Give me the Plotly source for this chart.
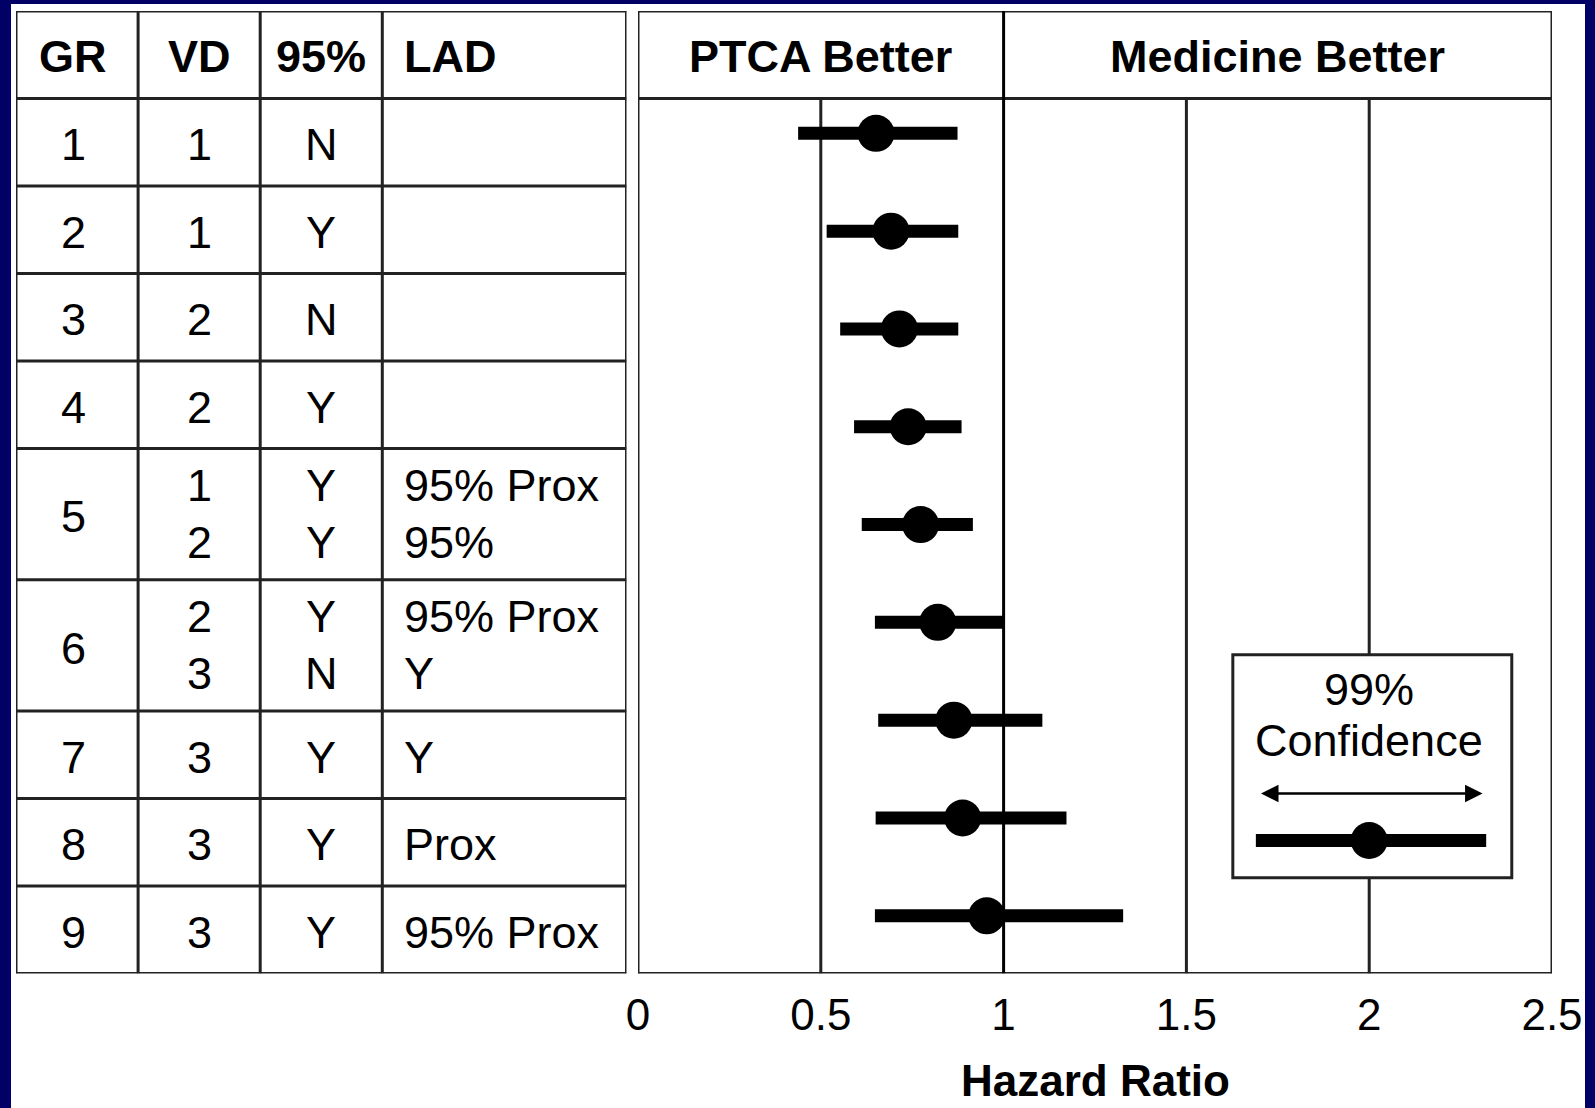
import plotly.graph_objects as go

# ---- data -------------------------------------------------------------
groups = ["1", "2", "3", "4", "5", "6", "7", "8", "9"]
vessels = [["1"], ["1"], ["2"], ["2"], ["1", "2"], ["2", "3"], ["3"], ["3"], ["3"]]
stenosis95 = [["N"], ["Y"], ["N"], ["Y"], ["Y", "Y"], ["Y", "N"], ["Y"], ["Y"], ["Y"]]
lad = [[""], [""], [""], [""], ["95% Prox", "95%"], ["95% Prox", "Y"], ["Y"], ["Prox"], ["95% Prox"]]
row_units = [1, 1, 1, 1, 1.5, 1.5, 1, 1, 1]

hazard = [0.651, 0.692, 0.715, 0.739, 0.773, 0.820, 0.864, 0.888, 0.954]
ci_low = [0.438, 0.516, 0.553, 0.591, 0.612, 0.648, 0.657, 0.650, 0.648]
ci_high = [0.874, 0.876, 0.876, 0.885, 0.916, 1.000, 1.106, 1.172, 1.327]

header_cols = ["GR", "VD", "95%", "LAD"]
panel_headers = ["PTCA Better", "Medicine Better"]
x_ticks = [0, 0.5, 1, 1.5, 2, 2.5]
x_tick_text = ["0", "0.5", "1", "1.5", "2", "2.5"]
key_value, key_low, key_high = 2.0, 1.69, 2.32

# ---- page geometry ----------------------------------------------------
W, H = 1595, 1108
FONT = "Liberation Sans, Arial, sans-serif"
FS = 45
NAVY = "#000066"
LINE = "#222222"


def px_x(p):
    return p / W


def px_y(p):
    return 1 - p / H


fig = go.Figure()

# forest plot: point estimates with 99% confidence bars
rows = list(range(1, len(groups) + 1))
fig.add_trace(go.Scatter(
    x=hazard, y=rows, mode="markers",
    marker=dict(size=37, color="black"),
    error_x=dict(type="data", symmetric=False,
                 array=[h - m for h, m in zip(ci_high, hazard)],
                 arrayminus=[m - l for m, l in zip(hazard, ci_low)],
                 thickness=13, width=0, color="black"),
    xaxis="x", yaxis="y", showlegend=False, hoverinfo="skip",
))

# key inside the box
key_row = 8.23
fig.add_trace(go.Scatter(
    x=[key_value], y=[key_row], mode="markers",
    marker=dict(size=37, color="black"),
    error_x=dict(type="data", symmetric=False,
                 array=[key_high - key_value], arrayminus=[key_value - key_low],
                 thickness=13, width=0, color="black"),
    xaxis="x", yaxis="y", showlegend=False, hoverinfo="skip",
))

shapes = []
# white page area
shapes.append(dict(type="rect", xref="paper", yref="paper",
                   x0=px_x(11), x1=px_x(1585), y0=0, y1=px_y(4),
                   fillcolor="white", line=dict(width=0), layer="below"))

# table grid (x2 / y2 units)
col_edges = [0, 1, 2, 3, 5]
row_edges = [0, 1]
for u in row_units:
    row_edges.append(row_edges[-1] + u)
total = row_edges[-1]
for ce in col_edges:
    shapes.append(dict(type="line", xref="x2", yref="y2", x0=ce, x1=ce, y0=0, y1=total,
                       line=dict(color=LINE, width=3), layer="below"))
for re_ in row_edges:
    shapes.append(dict(type="line", xref="x2", yref="y2", x0=0, x1=5, y0=re_, y1=re_,
                       line=dict(color=LINE, width=3), layer="below"))

# right panel frame
for yy in (0, 1, total):
    shapes.append(dict(type="line", xref="x", yref="y2", x0=0, x1=2.5, y0=yy, y1=yy,
                       line=dict(color=LINE, width=3), layer="below"))
for xx in (0, 1, 2.5):
    shapes.append(dict(type="line", xref="x", yref="y2", x0=xx, x1=xx, y0=0, y1=total,
                       line=dict(color="black" if xx == 1 else LINE, width=3), layer="below"))
for xx in (0.5, 1.5, 2):
    shapes.append(dict(type="line", xref="x", yref="y2", x0=xx, x1=xx, y0=1, y1=total,
                       line=dict(color=LINE, width=3), layer="below"))

# key box
shapes.append(dict(type="rect", xref="x", yref="y", x0=1.627, x1=2.39, y0=6.33, y1=8.61,
                   fillcolor="white", line=dict(color=LINE, width=3), layer="below"))

annotations = []
col_centers = [0.47, 1.5, 2.5]
lad_left = 3.16


def txt(x, y, s, xref="x2", yref="y2", anchor="center", bold=False, size=FS):
    annotations.append(dict(x=x, y=y, xref=xref, yref=yref, text=f"<b>{s}</b>" if bold else s,
                            showarrow=False, xanchor=anchor, yanchor="middle",
                            font=dict(family=FONT, size=size, color="black")))


# header row
for c, h in zip(col_centers, header_cols[:3]):
    txt(c, 0.52, h, bold=True)
txt(lad_left, 0.52, header_cols[3], anchor="left", bold=True)
txt(0.5, 0.52, panel_headers[0], xref="x", bold=True)
txt(1.75, 0.52, panel_headers[1], xref="x", bold=True)

# body rows
for i, g in enumerate(groups):
    top, bot = row_edges[i + 1], row_edges[i + 2]
    mid = (top + bot) / 2
    txt(col_centers[0], mid + 0.03, g)
    n = len(vessels[i])
    offs = [0.03] if n == 1 else [-0.33, 0.32]
    for k in range(n):
        yy = mid + offs[k]
        txt(col_centers[1], yy, vessels[i][k])
        txt(col_centers[2], yy, stenosis95[i][k])
        if lad[i][k]:
            txt(lad_left, yy, lad[i][k], anchor="left")

# key labels
txt(2.0, 6.69, "99%", xref="x", yref="y", size=45)
txt(2.0, 7.21, "Confidence", xref="x", yref="y", size=45)
annotations.append(dict(x=2.31, y=7.75, ax=1.70, ay=7.75, xref="x", yref="y",
                        axref="x", ayref="y", text="", showarrow=True,
                        arrowside="end+start", arrowhead=2, arrowsize=1.4,
                        arrowwidth=2.5, arrowcolor="black"))

# axis title
annotations.append(dict(x=1.25, y=px_y(1080), xref="x", yref="paper",
                        text="<b>Hazard Ratio</b>", showarrow=False,
                        xanchor="center", yanchor="middle",
                        font=dict(family=FONT, size=44, color="black")))

fig.update_layout(
    width=W, height=H,
    margin=dict(l=0, r=0, t=0, b=0, autoexpand=False),
    paper_bgcolor=NAVY, plot_bgcolor="rgba(0,0,0,0)",
    shapes=shapes, annotations=annotations,
    xaxis=dict(domain=[px_x(638), px_x(1552)], range=[0, 2.5], anchor="y",
               tickvals=x_ticks, ticktext=x_tick_text, ticks="", showgrid=False,
               zeroline=False, showline=False, ticklabelstandoff=11, automargin=False,
               tickfont=dict(family=FONT, size=44, color="black")),
    yaxis=dict(domain=[px_y(973.5), px_y(98.7)], range=[9.59, 0.646], anchor="x",
               visible=False, automargin=False),
    xaxis2=dict(domain=[px_x(16), px_x(626.5)], range=[0, 5], anchor="y2", visible=False,
                automargin=False),
    yaxis2=dict(domain=[px_y(973.5), px_y(11)], range=[total, 0], anchor="x2", visible=False,
                automargin=False),
)

fig.write_html("out.html")
